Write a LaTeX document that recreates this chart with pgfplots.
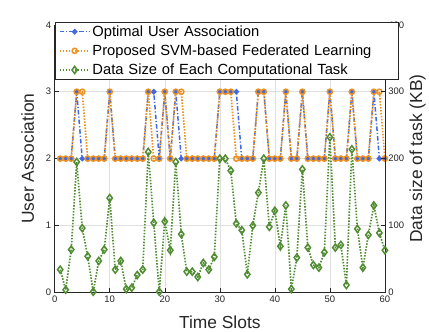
\documentclass[border=0pt]{standalone}
\usepackage{fontspec}
\setmainfont{Liberation Sans}
\usepackage{pgfplots}
\usepackage{pgfplotstable}
\pgfplotsset{compat=1.18}
\definecolor{cblue}{RGB}{65,105,225}
\definecolor{corange}{RGB}{237,145,33}
\definecolor{cgreen}{RGB}{80,140,50}
\definecolor{axgray}{RGB}{38,38,38}

\pgfplotstableread{
x opt prop data
1 2 2 34
2 2 2 4
3 2 2 64
4 3 3 195
5 2 3 96
6 2 2 54
7 2 2 1
8 2 2 47
9 2 2 64
10 3 3 141
11 2 2 34
12 2 2 47
13 2 2 5
14 2 2 7
15 2 2 26
16 2 2 34
17 3 3 210
18 3 2 104
19 2 2 1
20 3 3 106
21 2 2 63
22 3 3 195
23 2 3 87
24 2 2 31
25 2 2 31
26 2 2 23
27 2 2 44
28 2 2 34
29 2 2 53
30 3 3 200
31 3 3 200
32 3 3 182
33 3 2 103
34 2 2 93
35 2 2 27
36 2 2 100
37 3 3 149
38 3 3 200
39 2 2 98
40 2 2 122
41 2 2 69
42 3 3 130
43 2 2 5
44 2 2 52
45 3 3 184
46 2 2 67
47 2 2 41
48 2 2 37
49 2 2 60
50 3 3 232
51 2 2 67
52 2 2 71
53 2 2 11
54 3 3 214
55 2 2 95
56 2 2 37
57 2 2 86
58 3 3 130
59 2 3 89
60 2 2 63
}\datatable

\pgfplotsset{
  common/.style={
    scale only axis, width=332pt, height=269pt,
    xmin=0, xmax=60,
    tick align=inside, major tick length=4pt,
    axis line style={axgray, line width=0.5pt},
    tick style={axgray, line width=0.5pt},
    ticklabel style={font=\fontsize{9.5}{10}\selectfont, text=axgray},
    /pgf/number format/assume math mode=true,
    label style={font=\fontsize{17.5}{19}\selectfont, text=axgray},
  },
  blueline/.style={cblue, line width=1.5pt, dash pattern=on 4.5pt off 2pt on 1.2pt off 2pt,
    mark=*, mark size=2pt, mark options={solid, fill=cblue, draw=cblue}},
  orangeline/.style={corange, line width=1.7pt, dash pattern=on 1.5pt off 1.5pt,
    mark=o, mark size=2.6pt, mark options={solid, line width=1.5pt, fill=none}},
  greenline/.style={cgreen, line width=1.7pt, dash pattern=on 1.5pt off 1.5pt,
    mark=diamond, mark size=3.6pt, mark options={solid, line width=1.5pt, fill=white}},
}

\begin{document}
\begin{tikzpicture}
\begin{axis}[common, name=ax1,
  ymin=0, ymax=4, ytick={0,1,2,3,4},
  xtick={0,10,...,60},
  ytick pos=left, xtick pos=bottom,
  grid=major, grid style={black!12, line width=0.5pt},
  xlabel={Time Slots}, ylabel={User Association},
  xlabel style={at={(axis description cs:0.5,-0.134)}, anchor=base},
  ylabel style={at={(axis description cs:-0.082,0.5)}, anchor=center},
]
\addplot[blueline] table[x=x,y=opt]{\datatable};
\addplot[orangeline] table[x=x,y=prop]{\datatable};
\end{axis}
\begin{axis}[common,
  ymin=0, ymax=400, ytick={0,100,...,400},
  axis x line=none, axis y line*=right,
  ylabel={Data size of task (KB)},
  ylabel style={at={(axis description cs:1.099,0.5)}, anchor=center},
  legend cell align=left,
  legend style={at={(axis description cs:0,1.011)}, anchor=north west,
    draw=axgray, line width=0.5pt, fill=white,
    font=\fontsize{14.8}{16}\selectfont, text=black,
    inner xsep=4pt, inner ysep=1.5pt, row sep=3pt,
    text width=301pt},
  legend image code/.code={\draw[mark repeat=2,mark phase=2,#1] plot coordinates {(0pt,0pt) (15pt,0pt) (30pt,0pt)};},
]
\addlegendimage{blueline}
\addlegendentry{Optimal User Association}
\addlegendimage{orangeline}
\addlegendentry{Proposed SVM-based Federated Learning}
\addplot[greenline] table[x=x,y=data]{\datatable};
\addlegendentry{Data Size of Each Computational Task}
\end{axis}
\path ([shift={(-55pt,-37pt)}]ax1.south west) rectangle ([shift={(42pt,25pt)}]ax1.north east);
\end{tikzpicture}
\end{document}
